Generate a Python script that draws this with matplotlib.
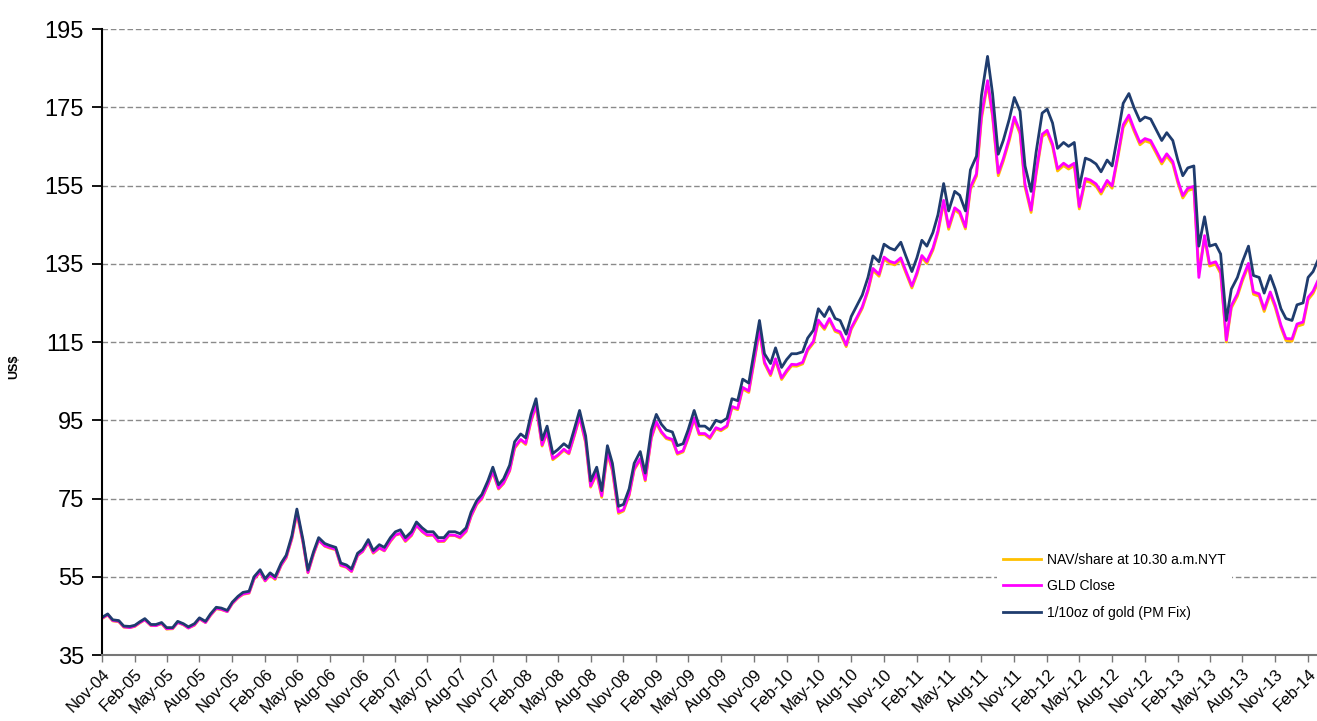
import pandas as pd
import matplotlib.pyplot as plt
import matplotlib.dates as mdates

plt.rcParams['font.family'] = ['Liberation Sans', 'DejaVu Sans']

# semi-monthly readings, 15-Nov-04 .. 15-Mar-14
dates = pd.date_range('2004-11-15', '2014-03-15', freq='SMS')

gold = [
    44.6, 45.5, 44.0,
    43.8, 42.4, 42.3, 42.6, 43.5, 44.3, 42.8, 42.8, 43.3, 42.0, 42.0, 43.6, 43.0, 42.2, 43.0, 44.5, 43.6, 45.5, 47.2, 47.0, 46.4, 48.5, 50.0, 51.0,
    51.3, 55.0, 56.8, 54.5, 56.0, 55.0, 58.5, 60.5, 65.5, 72.3, 64.5, 56.7, 61.5, 65.0, 63.5, 63.0, 62.5, 58.5, 58.0, 57.0, 61.0, 62.0, 64.5, 61.7,
    63.2, 62.5, 65.0, 66.5, 67.0, 65.0, 66.5, 69.0, 67.5, 66.5, 66.5, 65.0, 65.0, 66.5, 66.5, 66.0, 67.5, 71.5, 74.5, 76.0, 79.5, 83.0, 78.5, 80.0,
    83.5, 89.5, 91.5, 90.5, 96.5, 100.5, 90.0, 93.5, 86.5, 87.5, 89.0, 88.0, 93.0, 97.5, 91.0, 79.5, 83.0, 77.0, 88.5, 84.0, 73.0, 73.5, 77.5, 84.0,
    87.0, 81.5, 92.5, 96.5, 94.0, 92.5, 92.0, 88.5, 89.0, 92.5, 97.5, 93.5, 93.5, 92.5, 95.0, 94.5, 95.5, 100.5, 100.0, 105.5, 104.5, 112.0, 120.5, 112.0,
    109.5, 113.5, 108.5, 110.5, 112.0, 112.0, 112.5, 116.0, 118.0, 123.5, 121.5, 124.0, 121.0, 120.5, 117.0, 121.5, 124.5, 127.0, 131.5, 137.0, 135.5, 140.0, 139.0, 138.5,
    140.5, 137.0, 133.0, 136.5, 141.0, 139.5, 143.0, 147.5, 155.5, 148.5, 153.5, 152.5, 148.5, 159.0, 162.5, 178.0, 188.0, 178.5, 163.0, 166.5, 172.0, 177.5, 174.0, 160.0,
    153.5, 163.5, 173.5, 174.5, 171.0, 164.5, 166.0, 165.0, 166.0, 154.5, 162.0, 161.5, 160.5, 158.5, 161.5, 160.0, 168.5, 176.0, 178.5, 175.0, 171.5, 172.5, 172.0, 169.5,
    166.5, 168.5, 166.5, 161.5, 157.5, 159.5, 160.0, 139.5, 147.0, 139.5, 140.0, 137.5, 120.5, 128.5, 131.5, 135.5, 139.5, 132.0, 131.5, 127.5, 132.0, 128.5, 123.5, 121.0,
    120.5, 124.5, 125.0, 131.5, 133.0, 136.0,
]

gld_close = [
    44.4, 45.3, 43.8,
    43.6, 42.2, 42.0, 42.4, 43.3, 44.0, 42.6, 42.5, 43.1, 41.7, 41.8, 43.3, 42.8, 41.9, 42.7, 44.3, 43.3, 45.2, 46.9, 46.7, 46.1, 48.2, 49.7, 50.6,
    50.9, 54.5, 56.3, 54.0, 55.5, 54.5, 58.0, 60.0, 64.9, 71.6, 63.9, 56.1, 61.0, 64.4, 62.9, 62.5, 62.0, 58.0, 57.5, 56.4, 60.5, 61.5, 63.9, 61.2,
    62.4, 61.7, 64.2, 65.7, 66.1, 64.2, 65.7, 68.2, 66.6, 65.7, 65.7, 64.1, 64.2, 65.7, 65.6, 65.1, 66.7, 70.6, 73.7, 75.1, 78.6, 82.0, 77.6, 79.0,
    82.2, 88.1, 90.1, 89.1, 95.0, 99.0, 88.7, 92.1, 85.2, 86.1, 87.6, 86.6, 91.5, 96.0, 89.6, 78.2, 81.6, 75.7, 87.0, 82.5, 71.6, 72.1, 76.1, 82.6,
    85.2, 79.8, 90.7, 94.6, 92.1, 90.6, 90.1, 86.6, 87.2, 90.6, 95.6, 91.6, 91.6, 90.6, 93.1, 92.6, 93.6, 98.5, 98.0, 103.4, 102.5, 109.8, 118.3, 109.9,
    106.8, 110.7, 105.8, 107.7, 109.3, 109.2, 109.8, 113.2, 115.1, 120.6, 118.6, 121.0, 118.1, 117.6, 114.2, 118.6, 121.5, 124.0, 128.4, 133.8, 132.3, 136.7, 135.6, 135.2,
    136.5, 133.2, 129.3, 132.7, 137.1, 135.6, 139.0, 143.4, 151.2, 144.4, 149.3, 148.3, 144.4, 154.6, 158.0, 172.9, 181.8, 173.3, 158.2, 161.8, 167.1, 172.5, 168.8, 155.3,
    148.7, 158.4, 168.1, 169.1, 165.6, 159.3, 160.7, 159.8, 160.7, 149.6, 156.8, 156.4, 155.4, 153.4, 156.3, 154.9, 163.2, 170.5, 173.0, 169.6, 166.0, 167.0, 166.5, 164.1,
    161.1, 163.1, 161.1, 156.3, 152.4, 154.3, 154.8, 131.5, 142.2, 135.0, 135.5, 133.1, 115.5, 124.3, 127.3, 131.2, 135.1, 127.8, 127.3, 123.4, 127.8, 124.4, 119.3, 115.9,
    115.8, 119.6, 120.1, 126.4, 128.0, 130.8,
]

nav = [
    44.3, 45.2, 43.7,
    43.5, 42.1, 42.0, 42.3, 43.2, 44.0, 42.5, 42.5, 43.0, 41.6, 41.7, 43.3, 42.7, 41.9, 42.6, 44.2, 43.3, 45.1, 46.8, 46.6, 46.1, 48.1, 49.6, 50.5,
    50.8, 54.4, 56.1, 53.9, 55.4, 54.3, 57.9, 59.8, 64.7, 71.2, 63.7, 56.0, 60.8, 64.3, 62.8, 62.3, 61.9, 57.8, 57.4, 56.3, 60.4, 61.4, 63.8, 61.0,
    62.3, 61.6, 64.0, 65.6, 66.0, 64.0, 65.5, 68.1, 66.5, 65.5, 65.6, 64.0, 64.0, 65.5, 65.5, 64.9, 66.5, 70.4, 73.5, 74.9, 78.4, 81.7, 77.4, 78.8,
    82.0, 87.8, 89.9, 88.8, 94.7, 98.6, 88.4, 91.8, 84.9, 85.9, 87.3, 86.4, 91.2, 95.7, 89.2, 77.9, 81.3, 75.3, 86.5, 82.0, 71.2, 71.8, 75.8, 82.3,
    84.9, 79.5, 90.4, 94.2, 91.8, 90.3, 89.8, 86.3, 86.9, 90.3, 95.2, 91.3, 91.3, 90.3, 92.8, 92.3, 93.3, 98.2, 97.7, 103.0, 102.1, 109.4, 117.8, 109.5,
    106.4, 110.3, 105.4, 107.3, 108.9, 108.8, 109.4, 112.8, 114.7, 120.1, 118.2, 120.6, 117.7, 117.2, 113.8, 118.2, 121.1, 123.6, 128.0, 133.3, 131.8, 136.2, 135.1, 134.7,
    136.0, 132.7, 128.8, 132.2, 136.6, 135.1, 138.5, 142.9, 150.6, 143.8, 148.8, 147.8, 143.9, 154.0, 157.4, 172.1, 181.0, 172.6, 157.5, 161.2, 166.5, 171.9, 168.2, 154.6,
    148.1, 157.8, 167.5, 168.4, 165.0, 158.7, 160.1, 159.2, 160.1, 149.0, 156.2, 155.8, 154.8, 152.8, 155.7, 154.3, 162.6, 169.8, 172.3, 169.0, 165.4, 166.4, 165.9, 163.5,
    160.5, 162.5, 160.5, 155.7, 151.8, 153.7, 154.2, 133.0, 141.6, 134.4, 134.9, 132.5, 115.0, 123.7, 126.7, 130.6, 134.5, 127.2, 126.7, 122.8, 127.2, 123.8, 118.7, 115.4,
    115.2, 119.0, 119.5, 125.8, 127.4, 130.2,
]

assert len(dates) == len(gold) == len(gld_close) == len(nav)

y_ticks = list(range(35, 196, 20))

fig = plt.figure(figsize=(13.17, 7.21), dpi=100)
ax = fig.add_axes([102 / 1317, 1 - 655 / 721, 1215 / 1317, 626 / 721])

ax.plot(dates, nav, color='#FFC000', lw=2.0, label='NAV/share at 10.30 a.m.NYT')
ax.plot(dates, gld_close, color='#FF00FF', lw=2.0, label='GLD Close')
ax.plot(dates, gold, color='#1F3C6E', lw=2.0, label='1/10oz of gold (PM Fix)')

ax.set_ylim(35, 195)
ax.set_yticks(y_ticks)
ax.set_xlim(pd.Timestamp('2004-11-15'), pd.Timestamp('2014-03-12'))
ax.xaxis.set_major_locator(mdates.MonthLocator(bymonth=[2, 5, 8, 11], bymonthday=15))
ax.xaxis.set_major_formatter(mdates.DateFormatter('%b-%y'))

ax.yaxis.grid(True, linestyle=(0, (4, 2)), color='#8a8a8a', lw=1)
ax.set_axisbelow(True)

for s in ['top', 'right']:
    ax.spines[s].set_visible(False)
ax.spines['left'].set_color('black')
ax.spines['left'].set_linewidth(1.5)
ax.spines['bottom'].set_color('#777777')
ax.spines['bottom'].set_linewidth(1.5)

ax.tick_params(axis='y', labelsize=17, length=7, width=1.3, color='black', pad=6)
ax.tick_params(axis='x', labelsize=12, length=5, width=1, color='#777777', pad=3)
for lbl in ax.get_xticklabels():
    lbl.set_rotation(45)
    lbl.set_ha('right')
    lbl.set_va('top')
    lbl.set_rotation_mode('anchor')

ax.set_ylabel('US$', fontsize=9, fontweight='bold')
ax.yaxis.set_label_coords(-0.067, 0.46)

leg = ax.legend(loc='upper left', bbox_to_anchor=(0.737, 0.1725), borderaxespad=0,
                fontsize=10, frameon=True, facecolor='white', edgecolor='none',
                framealpha=1, handlelength=2.7, handletextpad=0.5, labelspacing=0.9,
                borderpad=0.4, fancybox=False)
for h in leg.get_lines():
    h.set_linewidth(2)

fig.savefig('out.png', dpi=100)
